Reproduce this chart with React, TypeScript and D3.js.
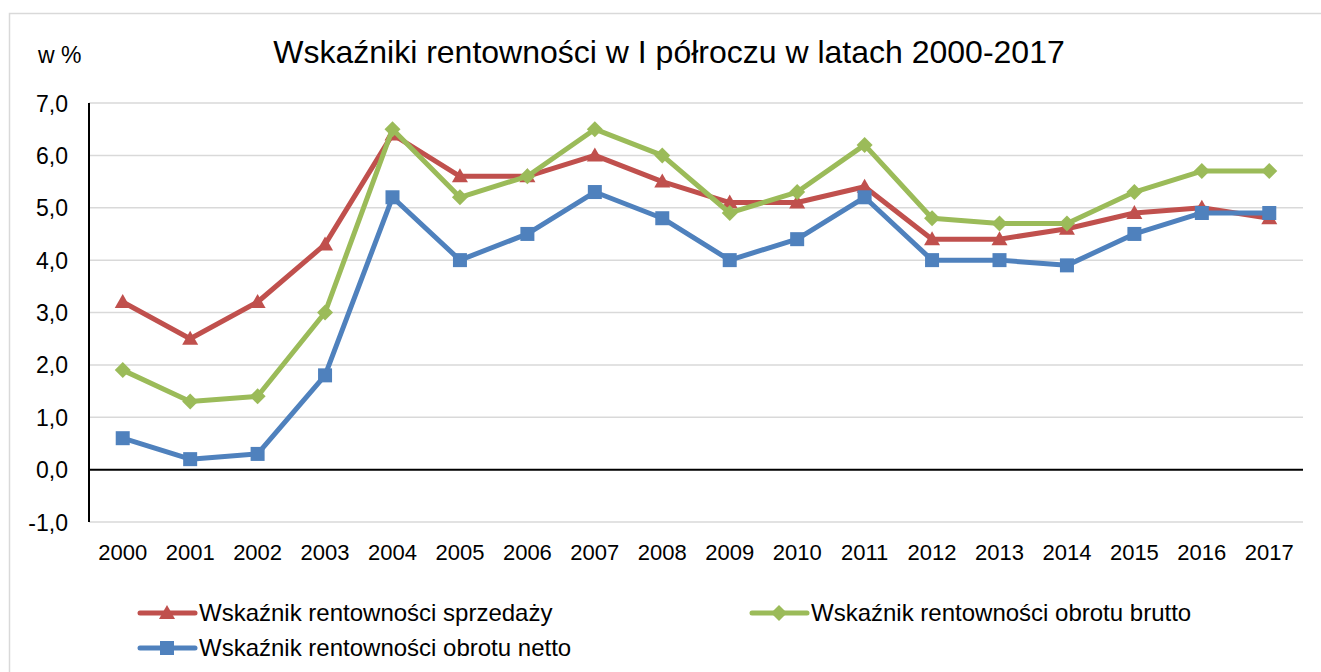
import * as d3 from 'd3';
import React from 'react';

// Wskaźniki rentowności, I półrocze 2000-2017
const years = ['2000', '2001', '2002', '2003', '2004', '2005', '2006', '2007', '2008',
  '2009', '2010', '2011', '2012', '2013', '2014', '2015', '2016', '2017'];
const sprzedazy = [3.2, 2.5, 3.2, 4.3, 6.4, 5.6, 5.6, 6.0, 5.5, 5.1, 5.1, 5.4, 4.4, 4.4, 4.6, 4.9, 5.0, 4.8];
const brutto = [1.9, 1.3, 1.4, 3.0, 6.5, 5.2, 5.6, 6.5, 6.0, 4.9, 5.3, 6.2, 4.8, 4.7, 4.7, 5.3, 5.7, 5.7];
const netto = [0.6, 0.2, 0.3, 1.8, 5.2, 4.0, 4.5, 5.3, 4.8, 4.0, 4.4, 5.2, 4.0, 4.0, 3.9, 4.5, 4.9, 4.9];
const yTicks = [-1, 0, 1, 2, 3, 4, 5, 6, 7];

const series = [
  { name: 'Wskaźnik rentowności sprzedaży', values: sprzedazy, color: '#C0504D', marker: 'triangle' },
  { name: 'Wskaźnik rentowności obrotu brutto', values: brutto, color: '#9BBB59', marker: 'diamond' },
  { name: 'Wskaźnik rentowności obrotu netto', values: netto, color: '#4F81BD', marker: 'square' },
];

const W = 1321, H = 672;
const plot = { left: 89, right: 1303, top: 103, bottom: 522 };
const font = 'Arial, "Liberation Sans", sans-serif';

function Marker({ type, x, y, color }: { type: string, x: number, y: number, color: string }) {
  if (type === 'square') return <rect x={x - 7} y={y - 7} width={14} height={14} fill={color} />;
  if (type === 'diamond') return <path d={`M${x},${y - 8}L${x + 8},${y}L${x},${y + 8}L${x - 8},${y}Z`} fill={color} />;
  return <path d={`M${x},${y - 8}L${x + 8},${y + 6}L${x - 8},${y + 6}Z`} fill={color} />;
}

export default function App() {
  const x = d3.scaleBand().domain(years).range([plot.left, plot.right]);
  const y = d3.scaleLinear().domain([-1, 7]).range([plot.bottom, plot.top]);
  const cx = (yr: string) => (x(yr) as number) + x.bandwidth() / 2;
  const line = d3.line<number>().x((_, i) => cx(years[i])).y(d => y(d));

  const legend = [
    { s: series[0], lx: 140, ly: 613 },
    { s: series[1], lx: 752, ly: 613 },
    { s: series[2], lx: 140, ly: 648 },
  ];

  return (
    <svg width={W} height={H} style={{ position: 'absolute', left: 0, top: 0, background: '#fff' }}>
      <rect x={9.5} y={13.5} width={W} height={H} fill="#fff" stroke="#D9D9D9" strokeWidth={1.5} />
      <text x={669} y={63} textAnchor="middle" fontFamily={font} fontSize={32} fill="#000">
        Wskaźniki rentowności w I półroczu w latach 2000-2017
      </text>
      <text x={38} y={63} fontFamily={font} fontSize={23} fill="#000">w %</text>

      {yTicks.map(t => (
        <g key={t}>
          {t !== 0 && <line x1={plot.left} x2={plot.right} y1={y(t)} y2={y(t)} stroke="#D9D9D9" strokeWidth={1.5} />}
          <text x={68} y={y(t) + 8.5} textAnchor="end" fontFamily={font} fontSize={23} fill="#000">
            {d3.format('.1f')(t).replace('.', ',').replace('−', '-')}
          </text>
        </g>
      ))}
      <line x1={plot.left} x2={plot.right} y1={y(0)} y2={y(0)} stroke="#000" strokeWidth={2} />
      <line x1={plot.left} x2={plot.left} y1={plot.top} y2={plot.bottom} stroke="#000" strokeWidth={2} />

      {years.map(yr => (
        <text key={yr} x={cx(yr)} y={560} textAnchor="middle" fontFamily={font} fontSize={22} fill="#000">{yr}</text>
      ))}

      {series.map(s => (
        <g key={s.name}>
          <path d={line(s.values) || ''} fill="none" stroke={s.color} strokeWidth={5} strokeLinejoin="round" />
          {s.values.map((v, i) => <Marker key={i} type={s.marker} x={cx(years[i])} y={y(v)} color={s.color} />)}
        </g>
      ))}

      {legend.map(({ s, lx, ly }) => (
        <g key={s.name}>
          <line x1={lx} x2={lx + 55} y1={ly} y2={ly} stroke={s.color} strokeWidth={5} strokeLinecap="round" />
          <Marker type={s.marker} x={lx + 27} y={ly} color={s.color} />
          <text x={lx + 59} y={ly + 8} fontFamily={font} fontSize={24} fill="#000">{s.name}</text>
        </g>
      ))}
    </svg>
  );
}
